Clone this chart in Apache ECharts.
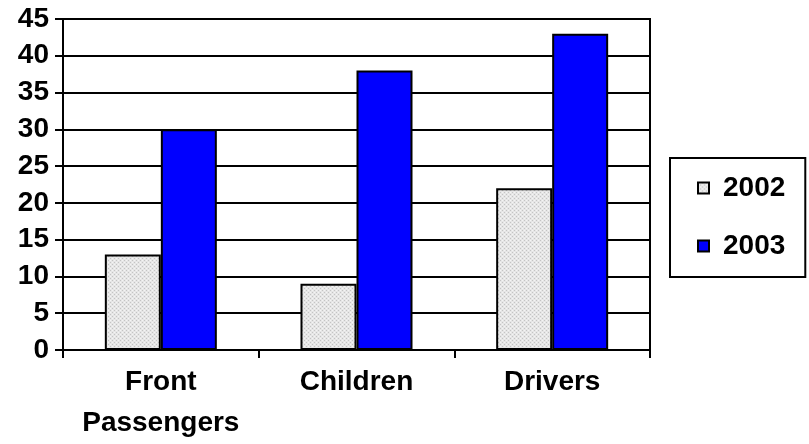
<!DOCTYPE html>
<html>
<head>
<meta charset="utf-8">
<script src="https://cdn.jsdelivr.net/npm/echarts@6/dist/echarts.min.js"></script>
<style>
html,body{margin:0;padding:0;background:#fff;}
#c{width:809px;height:444px;}
</style>
</head>
<body>
<div id="c"></div>
<script>
const categories = ['Front\nPassengers', 'Children', 'Drivers'];
const seriesNames = ['2002', '2003'];
const values2002 = [13, 9, 22];
const values2003 = [30, 38, 43];
const yTicks = { min: 0, max: 45, interval: 5 };

// dotted light-gray fill like the reference
const pc = document.createElement('canvas');
pc.width = 4; pc.height = 4;
const px = pc.getContext('2d');
px.fillStyle = '#e6e6e6'; px.fillRect(0, 0, 4, 4);
px.fillStyle = '#c4c4c4';
px.fillRect(0, 0, 1, 1); px.fillRect(2, 2, 1, 1);
px.fillStyle = '#f4f4f4';
px.fillRect(2, 0, 1, 1); px.fillRect(0, 2, 1, 1);
const grayFill = { image: pc, repeat: 'repeat' };

const FONT = '"Liberation Sans", Arial, sans-serif';
const chart = echarts.init(document.getElementById('c'), null, { renderer: 'canvas' });
chart.setOption({
  animation: false,
  backgroundColor: '#fff',
  grid: { left: 63, right: 159, top: 19, bottom: 92, show: true, borderColor: '#000', borderWidth: 2, backgroundColor: 'transparent' },
  legend: {
    orient: 'vertical', left: 670, top: 158,
    padding: [16, 20, 17, 27],
    itemGap: 30, itemWidth: 11, itemHeight: 11,
    borderColor: '#000', borderWidth: 2,
    icon: 'rect',
    textStyle: { fontFamily: FONT, fontWeight: 'bold', fontSize: 28, color: '#000', padding: [0, 0, 0, 9] },
    data: seriesNames
  },
  xAxis: {
    type: 'category', data: categories,
    axisLine: { lineStyle: { color: '#000', width: 2 } },
    axisTick: { show: true, interval: 0, length: 8, lineStyle: { color: '#000', width: 2 } },
    axisLabel: { interval: 0, fontFamily: FONT, fontWeight: 'bold', fontSize: 28, color: '#000', lineHeight: 41, margin: 12 }
  },
  yAxis: {
    type: 'value', min: yTicks.min, max: yTicks.max, interval: yTicks.interval,
    axisLine: { show: true, lineStyle: { color: '#000', width: 2 } },
    axisTick: { show: true, length: 8, lineStyle: { color: '#000', width: 2 } },
    axisLabel: { fontFamily: FONT, fontWeight: 'bold', fontSize: 28, color: '#000', margin: 14 },
    splitLine: { lineStyle: { color: '#000', width: 2 } }
  },
  series: [
    { name: seriesNames[0], type: 'bar', data: values2002, barWidth: 56, barGap: '0%',
      itemStyle: { color: grayFill, borderColor: '#000', borderWidth: 2 } },
    { name: seriesNames[1], type: 'bar', data: values2003, barWidth: 56, barGap: '0%',
      itemStyle: { color: '#0000ff', borderColor: '#000', borderWidth: 2 } }
  ]
});
</script>
</body>
</html>
